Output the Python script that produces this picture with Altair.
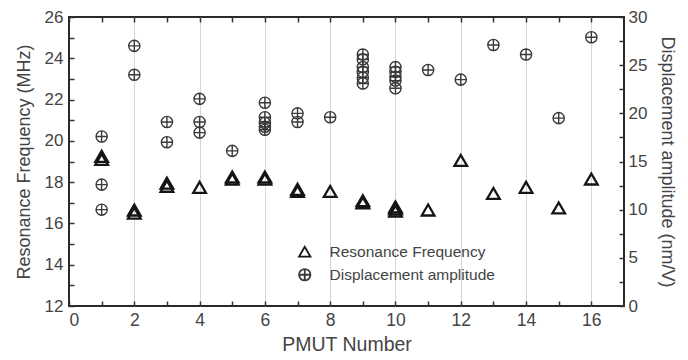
import altair as alt
import pandas as pd

# ---- data ----
res_pmut = [1, 1, 2, 2, 3, 3, 4, 5, 5, 6, 6, 7, 7, 8, 9, 9, 10, 10, 10, 11, 12, 13, 14, 15, 16]
res_freq = [19.1, 19.25, 16.5, 16.65, 17.8, 17.95, 17.75, 18.15, 18.25, 18.15, 18.25, 17.55, 17.65,
            17.55, 17.0, 17.1, 16.6, 16.7, 16.8, 16.65, 19.05, 17.45, 17.75, 16.75, 18.15]

disp_pmut = [1, 1, 1, 2, 2, 3, 3, 4, 4, 4, 5, 6, 6, 6, 6, 6, 7, 7, 8,
             9, 9, 9, 9, 9, 9, 10, 10, 10, 10, 10, 11, 12, 13, 14, 15, 16]
disp_amp = [17.6, 12.6, 10.0, 27.0, 24.0, 19.1, 17.0, 21.5, 19.1, 18.0, 16.1,
            21.1, 19.6, 19.0, 18.6, 18.3, 20.0, 19.1, 19.6,
            26.1, 25.6, 24.8, 24.3, 23.7, 23.1, 24.8, 24.3, 23.8, 23.4, 22.6,
            24.5, 23.5, 27.1, 26.1, 19.5, 27.9]

x_ticks = list(range(0, 17))
left_ticks = list(range(12, 27))
right_ticks = [0, 2.5, 5, 7.5, 10, 12.5, 15, 17.5, 20, 22.5, 25, 27.5, 30]
series_names = ["Resonance Frequency", "Displacement amplitude"]

CIRCLE_PLUS = "M-1,0A1,1,0,1,0,1,0A1,1,0,1,0,-1,0ZM-1,0L1,0M0,-1L0,1"
FONT = "Liberation Sans"
TXT = "#444444"
TICK = "#333333"

df_res = pd.DataFrame({"pmut": res_pmut, "val": res_freq, "series": series_names[0]})
df_disp = pd.DataFrame({"pmut": disp_pmut, "val": disp_amp, "series": series_names[1]})

legend = alt.Legend(title=None, orient="none", legendX=228, legendY=227,
                    labelFont=FONT, labelFontSize=15.5, labelColor=TXT, labelLimit=400,
                    symbolSize=130, symbolStrokeWidth=1.8, rowPadding=4,
                    labelOffset=17, symbolFillColor="transparent")
shape = alt.Shape("series:N", scale=alt.Scale(domain=series_names, range=["triangle-up", CIRCLE_PLUS]),
                  legend=legend)
color = alt.Color("series:N", scale=alt.Scale(domain=series_names, range=["#151515", "#3a3a3a"]),
                  legend=legend)

x_scale = alt.Scale(domain=[0, 17], nice=False, zero=False)

common_axis = dict(domain=False, tickColor=TICK, tickWidth=1.5, tickSize=5, offset=-5,
                   labelFont=FONT, labelFontSize=17, labelColor=TXT,
                   titleFont=FONT, titleFontSize=18, titleColor=TXT, titleFontWeight="normal")

x_bottom = alt.Axis(values=x_ticks, labelExpr="datum.value % 2 == 0 ? datum.label : ''",
                    title="PMUT Number", labelPadding=5, titlePadding=7,
                    grid=True, gridColor="#d6d6d6", gridWidth=1,
                    gridOpacity={"condition": {"test": "datum.value % 2 == 0 && datum.value > 0", "value": 1}, "value": 0},
                    orient="bottom", **{**common_axis, "titleFontSize": 19.5, "labelFontSize": 17.5})
x_top = alt.Axis(values=x_ticks, labels=False, title=None, grid=False, orient="top",
                 **{k: v for k, v in common_axis.items() if not k.startswith("title") and not k.startswith("label")})

y_left = alt.Axis(values=left_ticks, labelExpr="datum.value % 2 == 0 ? datum.label : ''",
                  title="Resonance Frequency (MHz)", orient="left", grid=False,
                  labelPadding=6, titlePadding=11, **common_axis)
y_right = alt.Axis(values=right_ticks, labelExpr="datum.value % 5 == 0 ? datum.label : ''",
                   title="Displacement amplitude (nm/V)", orient="right", grid=False,
                   labelPadding=4, titlePadding=11, **common_axis)

tri = alt.Chart(df_res).mark_point(filled=False, size=160, strokeWidth=2.3, opacity=1).encode(
    x=alt.X("pmut:Q", scale=x_scale, axis=x_bottom),
    y=alt.Y("val:Q", scale=alt.Scale(domain=[12, 26], nice=False, zero=False), axis=y_left),
    shape=shape, color=color,
)

circ = alt.Chart(df_disp).mark_point(filled=False, size=125, strokeWidth=1.4, opacity=1).encode(
    x=alt.X("pmut:Q", scale=x_scale, axis=x_top),
    y=alt.Y("val:Q", scale=alt.Scale(domain=[0, 30], nice=False, zero=False), axis=y_right),
    shape=shape, color=color,
)

chart = alt.layer(tri, circ).resolve_scale(y="independent").properties(
    width=555, height=289,
    autosize=alt.AutoSizeParams(type="none"),
    padding={"left": 61, "top": 9, "right": 56, "bottom": 52},
    background="white",
).configure_view(stroke="#2a2a2a", strokeWidth=2)

chart.save("out.html", embed_options={"renderer": "svg", "actions": False})
